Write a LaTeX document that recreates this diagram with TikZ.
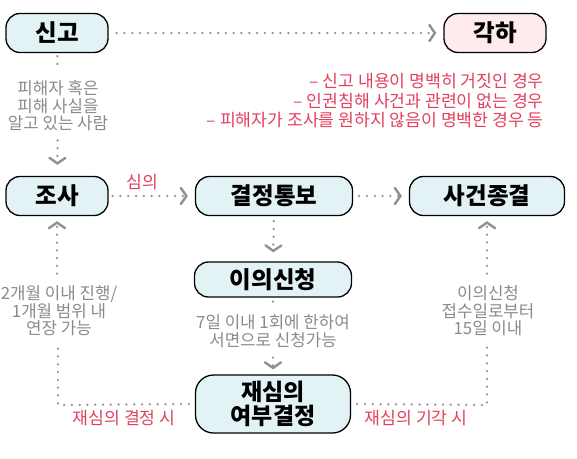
\documentclass[tikz,border=0pt]{standalone}
\usepackage{fontspec}
\setmainfont{Noto Sans CJK KR}
\usetikzlibrary{arrows.meta}
\definecolor{boxfill}{HTML}{E3F3F5}
\definecolor{pinkfill}{HTML}{FDECEB}
\definecolor{dotgray}{HTML}{909090}
\definecolor{txtgray}{HTML}{8A8A8A}
\definecolor{txtred}{HTML}{E2405E}
\tikzset{
  box/.style={draw=black, line width=1.3pt, fill=boxfill, rounded corners=14pt,
    minimum width=102pt, minimum height=39pt, inner sep=0pt, align=center,
    font=\fontsize{23.5}{26}\selectfont\bfseries},
  pbox/.style={box, fill=pinkfill},
  graytxt/.style={text=txtgray, align=center, inner sep=0pt,
    font=\fontsize{16.8}{17.5}\selectfont},
  redtxt/.style={text=txtred, inner sep=0pt,
    font=\fontsize{17.2}{19.5}\selectfont},
  dotline/.style={draw=dotgray, line width=2.5pt, line cap=round,
    dash pattern=on 0pt off 7.8pt},
  chev/.style={dotline, -{Straight Barb[length=5.5pt,width=16pt,line width=2.4pt,line cap=round]}, draw=dotgray},
}
\begin{document}
\begin{tikzpicture}[x=1pt,y=-1pt]
\useasboundingbox (0,0) rectangle (577,458);
% boxes
\node[box] (singo) at (57,33) {신고};
\node[pbox] (gakha) at (495,33) {각하};
\node[box] (josa) at (57,196) {조사};
\node[box, minimum width=157pt] (gyeol) at (274,196) {결정통보};
\node[box, minimum width=155pt] (sageon) at (487,196) {사건종결};
\node[box, minimum width=157pt, minimum height=35pt] (iui) at (273,279.5) {이의신청};
\node[box, minimum width=155pt, minimum height=58pt, rounded corners=18pt,
  font=\fontsize{23}{24.5}\selectfont\bfseries] (jaesim) at (273,404) {재심의\\여부결정};
% texts
\node[graytxt] (g1) at (58,106) {피해자 혹은\\피해 사실을\\알고 있는 사람};
\node[graytxt] (g2) at (59,311) {2개월 이내 진행/\\1개월 범위 내\\연장 가능};
\node[graytxt] (g3) at (273,331) {7일 이내 1회에 한하여\\서면으로 신청가능};
\node[graytxt] (g4) at (488,311) {이의신청\\접수일로부터\\15일 이내};
\node[redtxt, align=right, anchor=east] (reasons) at (544,101)
  {– 신고 내용이 명백히 거짓인 경우\\– 인권침해 사건과 관련이 없는 경우\\– 피해자가 조사를 원하지 않음이 명백한 경우 등};
\node[redtxt] (simui) at (142,182) {심의};
\node[redtxt] (l1) at (124,418) {재심의 결정 시};
\node[redtxt] (l2) at (416,418) {재심의 기각 시};
\coordinate (cl) at (58,405);
\coordinate (cr) at (487,405);
% connectors
\draw[chev, shorten <=8pt, shorten >=7pt] (singo) -- (gakha);
\draw[dotline, shorten <=3pt, shorten >=10pt] (singo) -- (g1);
\draw[chev, shorten <=9pt, shorten >=11pt] (g1) -- (josa);
\draw[chev, shorten <=4pt, shorten >=7pt] (josa) -- (gyeol);
\draw[chev, shorten <=6pt, shorten >=7pt] (gyeol) -- (sageon);
\draw[chev, shorten <=5pt, shorten >=9pt] (gyeol) -- (iui);
\draw[dotline, shorten <=4pt, shorten >=9pt] (iui) -- (g3);
\draw[chev, shorten <=10pt, shorten >=5pt] (g3) -- (jaesim);
\draw[dotline, shorten <=6pt] (jaesim.west) -- (cl) -- ([yshift=-9pt]g2.south -| cl);
\draw[chev, shorten <=12pt, shorten >=5pt] (g2.north -| josa) -- (josa);
\draw[dotline, shorten <=6pt] (jaesim.east) -- (cr) -- ([yshift=-10pt]g4.south -| cr);
\draw[chev, shorten <=12pt, shorten >=5pt] (g4.north -| sageon) -- (sageon);
\end{tikzpicture}
\end{document}
